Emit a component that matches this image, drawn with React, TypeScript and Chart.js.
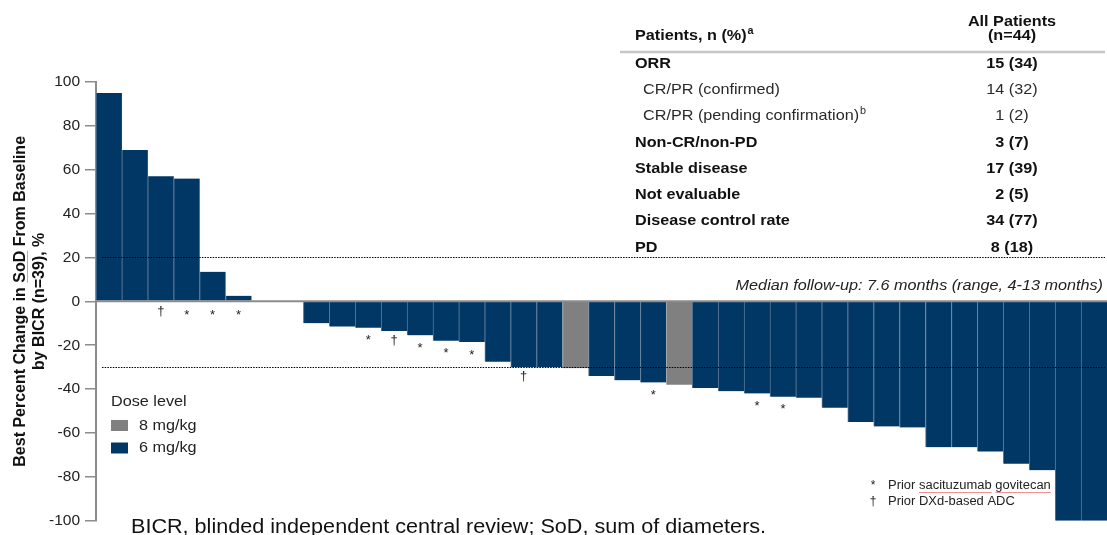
import React, { useEffect, useRef } from "react";
import { Chart, registerables } from "chart.js";

Chart.register(...registerables);

const FONT = '"Liberation Sans", Arial, Helvetica, sans-serif';
Chart.defaults.font.family = FONT;

// ---------- data ----------
const patients = [
  "P01", "P02", "P03", "P04", "P05", "P06", "P07", "P08", "P09", "P10",
  "P11", "P12", "P13", "P14", "P15", "P16", "P17", "P18", "P19", "P20",
  "P21", "P22", "P23", "P24", "P25", "P26", "P27", "P28", "P29", "P30",
  "P31", "P32", "P33", "P34", "P35", "P36", "P37", "P38", "P39",
];

const bestChangePct: (number | null)[] = [
  95, 69, 57, 56, 13.5, 2.5, null, null,
  -10, -11.5, -12, -13.5, -15.5, -18, -18.5, -27.5, -30, -30,
  -30.5, -34, -36, -37, -38, -39.5, -41, -42, -43.5, -44,
  -48.5, -55, -57, -57.5, -66.5, -66.5, -68.5, -74, -77, -100, -100,
];

const doseLevel = [
  "6 mg/kg", "6 mg/kg", "6 mg/kg", "6 mg/kg", "6 mg/kg", "6 mg/kg", "6 mg/kg", "6 mg/kg",
  "6 mg/kg", "6 mg/kg", "6 mg/kg", "6 mg/kg", "6 mg/kg", "6 mg/kg", "6 mg/kg", "6 mg/kg",
  "6 mg/kg", "6 mg/kg", "8 mg/kg", "6 mg/kg", "6 mg/kg", "6 mg/kg", "8 mg/kg", "6 mg/kg",
  "6 mg/kg", "6 mg/kg", "6 mg/kg", "6 mg/kg", "6 mg/kg", "6 mg/kg", "6 mg/kg", "6 mg/kg",
  "6 mg/kg", "6 mg/kg", "6 mg/kg", "6 mg/kg", "6 mg/kg", "6 mg/kg", "6 mg/kg",
];

// "*" prior sacituzumab govitecan, "†" prior DXd-based ADC
const priorTherapy = [
  "", "", "†", "*", "*", "*", "", "",
  "", "", "*", "†", "*", "*", "*", "", "†", "",
  "", "", "", "*", "", "", "", "*", "*", "",
  "", "", "", "", "", "", "", "", "", "", "",
];

const responseThresholds = [20, -30];

const yTicks = [100, 80, 60, 40, 20, 0, -20, -40, -60, -80, -100];

const doseLegend = ["8 mg/kg", "6 mg/kg"];
const doseColors: Record<string, string> = { "8 mg/kg": "#808080", "6 mg/kg": "#013764" };
const doseBorders: Record<string, string> = { "8 mg/kg": "#a8a8a8", "6 mg/kg": "#5b7896" };

const tableLabels = [
  "ORR",
  "CR/PR (confirmed)",
  "CR/PR (pending confirmation)",
  "Non-CR/non-PD",
  "Stable disease",
  "Not evaluable",
  "Disease control rate",
  "PD",
];
const tableValues = ["15 (34)", "14 (32)", "1 (2)", "3 (7)", "17 (39)", "2 (5)", "34 (77)", "8 (18)"];
const tableBold = [true, false, false, true, true, true, true, true];
const tableIndent = [false, true, true, false, false, false, false, false];
const tableSup = ["", "", "b", "", "", "", "", ""];

// ---------- drawing helpers ----------
const SX = 1.08;
function drawText(
  ctx: CanvasRenderingContext2D,
  s: string,
  x: number,
  y: number,
  font: string,
  color: string,
  align: CanvasTextAlign = "left",
  baseline: CanvasTextBaseline = "middle",
  sx: number = SX
): number {
  ctx.save();
  ctx.font = font;
  ctx.fillStyle = color;
  ctx.textAlign = align;
  ctx.textBaseline = baseline;
  const w = ctx.measureText(s).width * sx;
  ctx.translate(x, y);
  ctx.scale(sx, 1);
  ctx.fillText(s, 0, 0);
  ctx.restore();
  return w;
}

const overlayPlugin = {
  id: "overlay",
  afterDatasetsDraw(chart: any) {
    const ctx: CanvasRenderingContext2D = chart.ctx;
    const yScale = chart.scales.y;
    const area = chart.chartArea;
    const y0 = yScale.getPixelForValue(0);

    // zero line
    ctx.save();
    ctx.strokeStyle = "#8c8c8c";
    ctx.lineWidth = 2;
    ctx.beginPath();
    ctx.moveTo(area.left, y0);
    ctx.lineTo(area.right, y0);
    ctx.stroke();

    // threshold dotted lines
    ctx.strokeStyle = "#000";
    ctx.lineWidth = 1;
    ctx.setLineDash([1.5, 1.2]);
    for (const t of responseThresholds) {
      const yy = Math.round(yScale.getPixelForValue(t)) + 0.5;
      ctx.beginPath();
      ctx.moveTo(area.left + 6, yy);
      ctx.lineTo(area.right - 2, yy);
      ctx.stroke();
    }
    ctx.restore();

    // markers
    const meta = chart.getDatasetMeta(0);
    meta.data.forEach((bar: any, i: number) => {
      const m = priorTherapy[i];
      const v = bestChangePct[i];
      if (!m || v === null) return;
      const end = v > 0 ? y0 : bar.y;
      const center = end + (v > 0 ? 11 : 10);
      const yy = m === "*" ? center + 3 : center - 0.5;
      drawText(ctx, m, bar.x, yy, "13px " + FONT, "#222", "center", "middle", 1);
    });

    // table
    const boldF = "bold 15px " + FONT;
    const regF = "15px " + FONT;
    drawText(ctx, "All Patients", 1012, 21.5, boldF, "#111", "center");
    drawText(ctx, "(n=44)", 1012, 35.5, boldF, "#111", "center");
    const pw = drawText(ctx, "Patients, n (%)", 635, 36, boldF, "#111", "left");
    drawText(ctx, "a", 635 + pw + 1, 31, "bold 10px " + FONT, "#111", "left");
    ctx.save();
    ctx.strokeStyle = "#c6c6c6";
    ctx.lineWidth = 2.5;
    ctx.beginPath();
    ctx.moveTo(620, 52);
    ctx.lineTo(1105, 52);
    ctx.stroke();
    ctx.restore();
    tableLabels.forEach((lab, i) => {
      const cy = 63.5 + i * 26.3;
      const f = tableBold[i] ? boldF : regF;
      const col = tableBold[i] ? "#111" : "#2a2a2a";
      const x = tableIndent[i] ? 643 : 635;
      const w = drawText(ctx, lab, x, cy, f, col, "left");
      if (tableSup[i]) drawText(ctx, tableSup[i], x + w + 1, cy - 5, "10px " + FONT, col, "left");
      drawText(ctx, tableValues[i], 1012, cy, f, col, "center");
    });

    drawText(
      ctx,
      "Median follow-up: 7.6 months (range, 4-13 months)",
      1103,
      286,
      "italic 15px " + FONT,
      "#222",
      "right"
    );

    // dose legend
    drawText(ctx, "Dose level", 111, 401.5, "15px " + FONT, "#222", "left");
    const legY = [425.5, 448];
    doseLegend.forEach((d, i) => {
      ctx.fillStyle = doseColors[d];
      ctx.fillRect(111, legY[i] - 5.5, 17, 11);
      drawText(ctx, d, 139, legY[i], "15px " + FONT, "#222", "left");
    });

    // symbol legend
    drawText(ctx, "*", 873, 489, "12px " + FONT, "#222", "center", "alphabetic", 1);
    const pre = drawText(ctx, "Prior ", 888, 489, "12px " + FONT, "#222", "left", "alphabetic");
    const w1 = drawText(ctx, "sacituzumab", 888 + pre, 489, "12px " + FONT, "#222", "left", "alphabetic");
    ctx.save();
    ctx.font = "12px " + FONT;
    const sp = ctx.measureText(" ").width * SX;
    ctx.restore();
    const w2 = drawText(ctx, "govitecan", 888 + pre + w1 + sp, 489, "12px " + FONT, "#222", "left", "alphabetic");
    ctx.save();
    ctx.strokeStyle = "rgba(232,110,110,0.75)";
    ctx.lineWidth = 1;
    ctx.beginPath();
    ctx.moveTo(888 + pre, 492.5);
    ctx.lineTo(888 + pre + w1, 492.5);
    ctx.moveTo(888 + pre + w1 + sp, 492.5);
    ctx.lineTo(888 + pre + w1 + sp + w2, 492.5);
    ctx.stroke();
    ctx.restore();
    drawText(ctx, "†", 873, 505, "12px " + FONT, "#222", "center", "alphabetic", 1);
    drawText(ctx, "Prior DXd-based ADC", 888, 505, "12px " + FONT, "#222", "left", "alphabetic");

    // footnote
    drawText(
      ctx,
      "BICR, blinded independent central review; SoD, sum of diameters.",
      131,
      533,
      "20px " + FONT,
      "#111",
      "left",
      "alphabetic"
    );

    // spell-check underline under "SoD" in axis title
    ctx.save();
    ctx.font = "bold 16px " + FONT;
    const total = ctx.measureText("Best Percent Change in SoD From Baseline").width;
    const preW = ctx.measureText("Best Percent Change in ").width;
    const sodW = ctx.measureText("SoD").width;
    const cy = (area.top + area.bottom) / 2;
    const bottomY = cy + total / 2;
    ctx.strokeStyle = "rgba(232,110,110,0.75)";
    ctx.lineWidth = 1;
    ctx.beginPath();
    ctx.moveTo(27.5, bottomY - preW);
    ctx.lineTo(27.5, bottomY - preW - sodW);
    ctx.stroke();
    ctx.restore();
  },
};

export default function App() {
  const ref = useRef<HTMLCanvasElement>(null);
  useEffect(() => {
    if (!ref.current) return;
    const chart = new Chart(ref.current, {
      type: "bar",
      data: {
        labels: patients,
        datasets: [
          {
            label: "Best percent change",
            data: bestChangePct,
            backgroundColor: doseLevel.map((d) => doseColors[d]),
            borderColor: doseLevel.map((d) => doseBorders[d]),
            borderWidth: { left: 1, right: 0, top: 0, bottom: 0 },
            borderSkipped: "start",
            barPercentage: 1,
            categoryPercentage: 1,
          },
        ],
      },
      options: {
        responsive: false,
        animation: false,
        devicePixelRatio: 1,
        layout: { padding: { top: 82, bottom: 12, left: 0, right: 0 } },
        plugins: {
          legend: { display: false },
          tooltip: { enabled: false },
        },
        scales: {
          x: { display: false },
          y: {
            min: -100,
            max: 100,
            afterFit: (scale: any) => {
              scale.width = 96;
            },
            afterBuildTicks: (scale: any) => {
              scale.ticks = yTicks.map((v) => ({ value: v }));
            },
            ticks: {
              color: "#222",
              font: { size: 15.5 },
              padding: 5,
              callback: (v: any) => `${v}`,
            },
            grid: {
              drawOnChartArea: false,
              drawTicks: true,
              tickLength: 11,
              color: "#8c8c8c",
              lineWidth: 1.5,
            },
            border: { display: true, color: "#8c8c8c", width: 2 },
            title: {
              display: true,
              text: ["Best Percent Change in SoD From Baseline", "by BICR (n=39), %"],
              color: "#111",
              font: { size: 16, weight: "bold", lineHeight: 1.2 },
              padding: { top: 11, bottom: 0 },
            },
          },
        },
      },
      plugins: [overlayPlugin],
    } as any);
    return () => chart.destroy();
  }, []);
  return (
    <div style={{ position: "absolute", left: 0, top: 0, width: 1107, height: 535, background: "#fff" }}>
      <canvas ref={ref} width={1107} height={535} style={{ display: "block", width: 1107, height: 535 }} />
    </div>
  );
}
